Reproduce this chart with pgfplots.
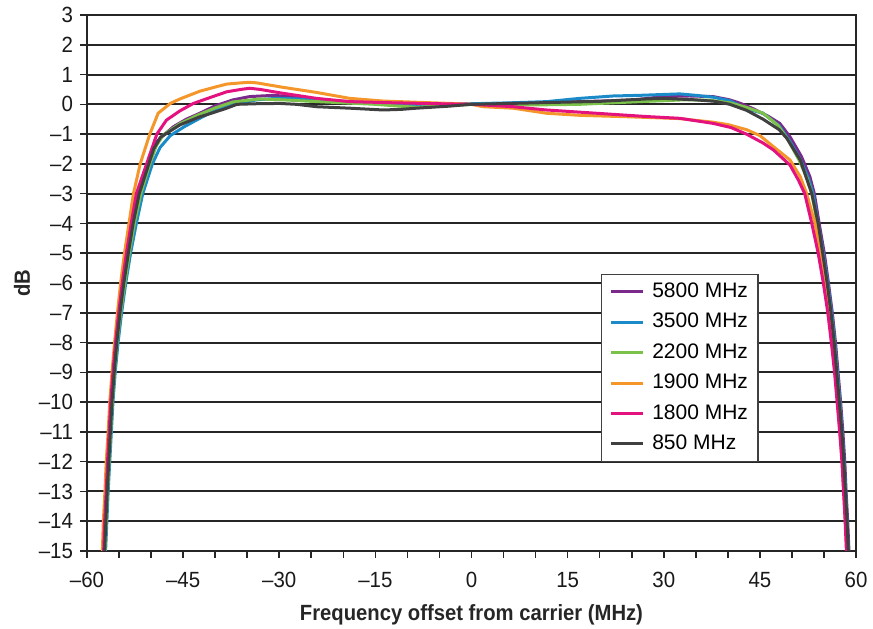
\documentclass[border=0pt]{standalone}
\usepackage{fontspec}
\setmainfont{Liberation Sans}
\newfontfamily\labelfont{Liberation Sans}[FakeStretch=0.92]
\newfontfamily\tickfont{Liberation Sans}[FakeStretch=0.93]
\usepackage{pgfplots}
\pgfplotsset{compat=1.18}

\definecolor{c5800}{HTML}{7B2A8C}
\definecolor{c3500}{HTML}{1B8AC8}
\definecolor{c2200}{HTML}{7CC24A}
\definecolor{c1900}{HTML}{F5962A}
\definecolor{c1800}{HTML}{E4127E}
\definecolor{c850}{HTML}{404040}

\begin{document}
\begin{tikzpicture}
\begin{axis}[
  name=ax,
  width=384.5pt, height=268pt,
  scale only axis,
  xmin=-60, xmax=60,
  ymin=-15, ymax=3,
  xtick={-60,-45,...,60},
  xticklabels={–60,–45,–30,–15,0,15,30,45,60},
  minor xtick={-55,-50,-40,-35,-25,-20,-10,-5,5,10,20,25,35,40,50,55},
  ytick={-15,-14,...,3},
  yticklabels={–15,–14,–13,–12,–11,–10,–9,–8,–7,–6,–5,–4,–3,–2,–1,0,1,2,3},
  tick align=outside,
  major tick length=3.5pt, minor tick length=3.5pt,
  tick style={black!85, line width=0.8pt},
  xtick pos=bottom, ytick pos=left,
  ymajorgrids,
  major grid style={black!85, line width=1pt},
  axis line style={black!85, line width=1pt},
  ticklabel style={font=\tickfont\fontsize{11}{13}\selectfont, text=black!90},
  xticklabel style={yshift=-3.5pt},
  xlabel={Frequency offset from carrier (MHz)},
  ylabel={dB},
  label style={font=\labelfont\bfseries\fontsize{11}{13}\selectfont, text=black!85},
  xlabel style={at={(axis description cs:0.5,0)}, anchor=base, yshift=-35pt},
  ylabel style={at={([xshift=-32.5pt]axis description cs:0,0.5)}, anchor=center},
  legend style={at={(rel axis cs:0.668,0.517)}, anchor=north west,
    draw=black!75, line width=0.6pt, fill=white,
    font=\fontsize{10.5}{12}\selectfont,
    inner xsep=4pt, inner ysep=3pt, row sep=3.7pt,
    /tikz/every odd column/.append style={column sep=3pt},
    nodes={inner sep=1pt, text height=7.5pt, text depth=2pt}},
  legend cell align=left,
  legend image code/.code={\draw[#1, line width=1.5pt] (0pt,0pt) -- (16pt,0pt);},
  every axis plot/.append style={line width=1.5pt},
]
\addplot[c5800] coordinates {
(-57.35,-15) (-57.15,-14) (-56.9,-13) (-56.7,-12) (-56.45,-11) (-56.2,-10)
(-55.85,-9) (-55.45,-8) (-54.95,-7) (-54.35,-6) (-53.65,-5) (-52.9,-4)
(-52.0,-3) (-50.5,-2) (-49.5,-1.35) (-48.6,-1.14) (-46.5,-0.75) (-44.5,-0.5)
(-42.4,-0.30) (-40,-0.05) (-37.2,0.15) (-34.6,0.26) (-31,0.3) (-27,0.25)
(-24.2,0.15) (-19,0.09) (-12,0.05) (-5,0.02) (0,0) (6,0.03) (12,0.06)
(17,0.09) (22,0.12) (25.5,0.15) (29.9,0.26) (34,0.28) (37.7,0.26) (40.3,0.15)
(42,0.03) (44,-0.15) (46.3,-0.4) (48.1,-0.64) (49.7,-1.09) (51.5,-1.76)
(52.8,-2.43) (53.5,-3) (54.25,-4) (55.05,-5) (55.7,-6) (56.3,-7) (56.8,-8)
(57.2,-9) (57.6,-10) (57.95,-11) (58.25,-12) (58.45,-13) (58.7,-14) (58.9,-15)
};
\addlegendentry{5800 MHz}
\addplot[c3500] coordinates {
(-57.1,-15) (-56.9,-14) (-56.7,-13) (-56.45,-12) (-56.2,-11) (-55.95,-10)
(-55.6,-9) (-55.15,-8) (-54.6,-7) (-53.95,-6) (-53.2,-5) (-52.3,-4)
(-51.3,-3) (-49.8,-2) (-48.6,-1.45) (-47.0,-1.05) (-44.8,-0.75) (-42.4,-0.47)
(-40,-0.2) (-37.2,0.0) (-33.5,0.15) (-30.5,0.2) (-27,0.18) (-24.7,0.15)
(-20,0.08) (-15,0.02) (-10,-0.03) (-5,-0.02) (0,0.02) (6,0.05) (11.7,0.09)
(16.9,0.2) (22.1,0.28) (26,0.3) (29.9,0.33) (32.5,0.35) (35.1,0.3) (37.7,0.24)
(40.3,0.12) (42.9,-0.15) (45.5,-0.3) (48,-0.72) (49.7,-1.25) (51.3,-1.85)
(52.6,-2.5) (53.3,-3.0) (54.1,-4) (54.9,-5) (55.6,-6) (56.2,-7) (56.7,-8)
(57.1,-9) (57.5,-10) (57.85,-11) (58.15,-12) (58.4,-13) (58.6,-14) (58.8,-15)
};
\addlegendentry{3500 MHz}
\addplot[c2200] coordinates {
(-57.2,-15) (-57.0,-14) (-56.8,-13) (-56.55,-12) (-56.3,-11) (-56.05,-10)
(-55.7,-9) (-55.3,-8) (-54.75,-7) (-54.1,-6) (-53.4,-5) (-52.6,-4)
(-51.6,-3) (-50.2,-2) (-49.2,-1.4) (-48.1,-1.03) (-45.5,-0.65) (-42.9,-0.38)
(-40,-0.12) (-37.2,0.08) (-33,0.18) (-29.4,0.15) (-25,0.1) (-20,0.05)
(-15,0.0) (-12,-0.05) (-8.6,-0.1) (-5,-0.06) (0,0) (5,0) (10,-0.02)
(16.9,0.0) (22,0.05) (27.3,0.1) (30,0.12) (33,0.15) (37,0.14) (40.3,0.05)
(42.9,-0.1) (45.5,-0.3) (47.8,-0.7) (49.4,-1.2) (51.1,-1.87) (52.4,-2.5)
(53.1,-3) (53.95,-4) (54.75,-5) (55.45,-6) (56.05,-7) (56.6,-8) (57.0,-9)
(57.4,-10) (57.75,-11) (58.05,-12) (58.3,-13) (58.55,-14) (58.75,-15)
};
\addlegendentry{2200 MHz}
\addplot[c1900] coordinates {
(-57.6,-15) (-57.45,-14) (-57.2,-13) (-57.0,-12) (-56.7,-11) (-56.45,-10)
(-56.1,-9) (-55.7,-8) (-55.25,-7) (-54.75,-6) (-54.15,-5) (-53.45,-4)
(-52.75,-3) (-51.7,-2) (-50.2,-1) (-48.9,-0.30) (-47.0,0.03) (-45.5,0.18)
(-42.4,0.44) (-40,0.58) (-38.2,0.68) (-36,0.72) (-34.6,0.74) (-33.5,0.72)
(-29.4,0.57) (-24.2,0.40) (-19.0,0.2) (-13.8,0.11) (-8.6,0.07) (-3.4,0.03)
(0,0) (1.8,-0.08) (6.5,-0.13) (11.7,-0.3) (16.9,-0.37) (24.7,-0.42)
(32.5,-0.48) (37.7,-0.6) (40,-0.68) (42.9,-0.85) (45,-1.05) (47.1,-1.42)
(49.7,-1.87) (51.3,-2.43) (52.3,-3) (53.6,-4) (54.4,-5) (55.1,-6) (55.75,-7)
(56.3,-8) (56.75,-9) (57.15,-10) (57.5,-11) (57.85,-12) (58.1,-13) (58.35,-14)
(58.55,-15)
};
\addlegendentry{1900 MHz}
\addplot[c1800] coordinates {
(-57.4,-15) (-57.25,-14) (-57.0,-13) (-56.8,-12) (-56.55,-11) (-56.3,-10)
(-55.95,-9) (-55.55,-8) (-55.05,-7) (-54.5,-6) (-53.85,-5) (-53.1,-4)
(-52.3,-3) (-50.7,-2) (-49.1,-1) (-47.6,-0.53) (-45.5,-0.22) (-43.4,0.03)
(-40.5,0.25) (-38.2,0.42) (-36,0.5) (-34.6,0.54) (-33,0.5) (-29.4,0.37)
(-24.2,0.2) (-19,0.09) (-12,0.05) (-5,0.02) (0,0) (6.5,-0.08) (11.7,-0.19)
(19.5,-0.3) (27.3,-0.41) (32.5,-0.47) (37.7,-0.64) (40.5,-0.78) (42.9,-1.0)
(45.5,-1.3) (47.1,-1.53) (49.7,-2.04) (51.0,-2.54) (52.0,-3) (53.1,-4)
(54.1,-5) (54.9,-6) (55.6,-7) (56.15,-8) (56.65,-9) (57.05,-10) (57.45,-11)
(57.8,-12) (58.05,-13) (58.3,-14) (58.5,-15)
};
\addlegendentry{1800 MHz}
\addplot[c850] coordinates {
(-57.25,-15) (-57.05,-14) (-56.85,-13) (-56.6,-12) (-56.35,-11) (-56.1,-10)
(-55.75,-9) (-55.35,-8) (-54.85,-7) (-54.25,-6) (-53.55,-5) (-52.8,-4)
(-51.85,-3) (-50.35,-2) (-49.6,-1.5) (-48.5,-1.1) (-45.5,-0.69) (-42.4,-0.42)
(-40.3,-0.28) (-38.2,-0.13) (-36.6,0.0) (-33.5,0.02) (-30,0.03) (-27.3,0.0)
(-24.2,-0.08) (-19,-0.13) (-13.8,-0.19) (-11,-0.17) (-8.6,-0.13) (-3.4,-0.06)
(0,0) (6,0.03) (12,0.06) (20,0.1) (27.3,0.18) (30,0.2) (35,0.15) (38,0.1)
(40.3,0.0) (42.9,-0.2) (45.5,-0.5) (48,-0.85) (49.2,-1.14) (51.3,-1.87)
(52.3,-2.5) (53.1,-3) (54.1,-4) (54.8,-5) (55.5,-6) (56.1,-7) (56.6,-8)
(57.0,-9) (57.4,-10) (57.8,-11) (58.1,-12) (58.35,-13) (58.6,-14) (58.8,-15)
};
\addlegendentry{850 MHz}
\end{axis}
\pgfresetboundingbox
\path[use as bounding box] ([shift={(-43.5pt,-39pt)}]ax.south west) rectangle ([shift={(8.5pt,7.5pt)}]ax.north east);
\end{tikzpicture}
\end{document}
